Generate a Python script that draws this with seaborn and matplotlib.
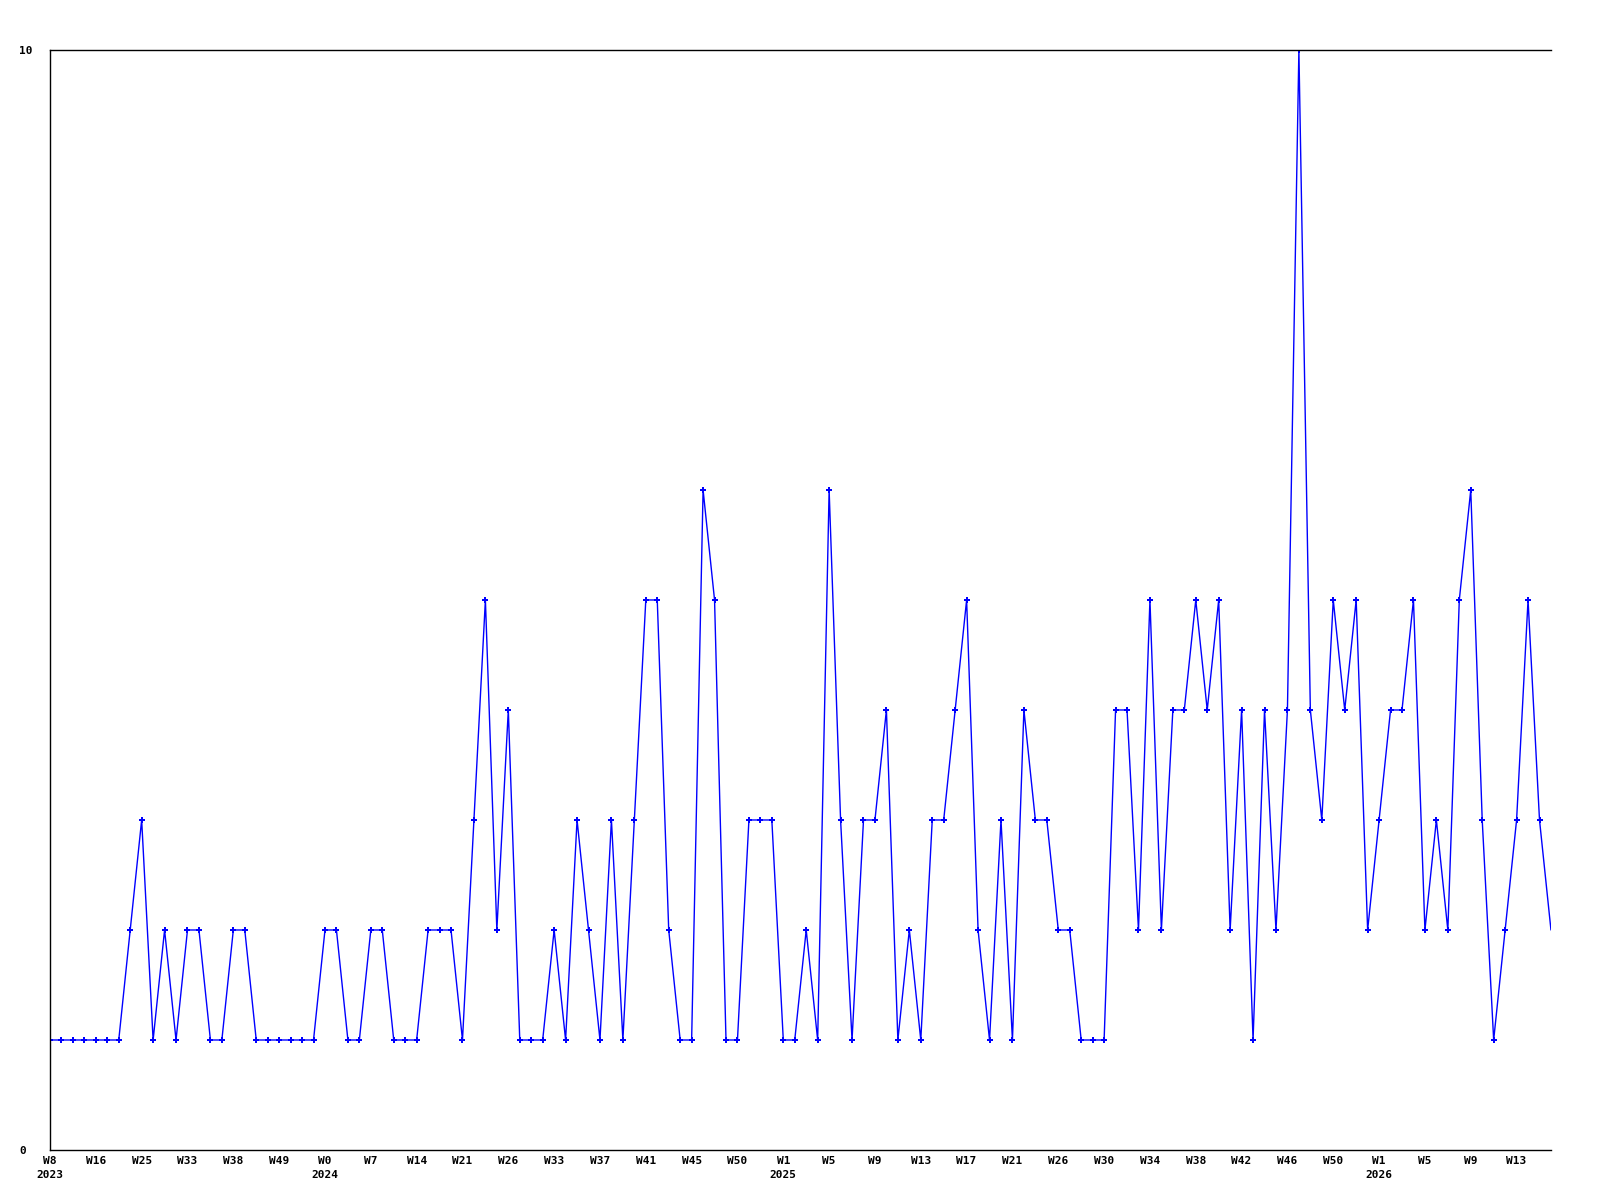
import matplotlib
matplotlib.use("Agg")
import matplotlib.pyplot as plt
import pandas as pd
import seaborn as sns

# weekly counts, one per point
counts = [1, 1, 1, 1, 1, 1, 1, 2, 3, 1, 2, 1, 2, 2, 1, 1, 2, 2, 1, 1,
          1, 1, 1, 1, 2, 2, 1, 1, 2, 2, 1, 1, 1, 2, 2, 2, 1, 3, 5, 2,
          4, 1, 1, 1, 2, 1, 3, 2, 1, 3, 1, 3, 5, 5, 2, 1, 1, 6, 5, 1,
          1, 3, 3, 3, 1, 1, 2, 1, 6, 3, 1, 3, 3, 4, 1, 2, 1, 3, 3, 4,
          5, 2, 1, 3, 1, 4, 3, 3, 2, 2, 1, 1, 1, 4, 4, 2, 5, 2, 4, 4,
          5, 4, 5, 2, 4, 1, 4, 2, 4, 10, 4, 3, 5, 4, 5, 2, 3, 4, 4, 5,
          2, 3, 2, 5, 6, 3, 1, 2, 3, 5, 3, 2]

# tick labels every 4th point
week_labels = ["W8", "W16", "W25", "W33", "W38", "W49", "W0", "W7", "W14",
               "W21", "W26", "W33", "W37", "W41", "W45", "W50", "W1", "W5",
               "W9", "W13", "W17", "W21", "W26", "W30", "W34", "W38", "W42",
               "W46", "W50", "W1", "W5", "W9", "W13"]
year_labels = {0: "2023", 6: "2024", 16: "2025", 29: "2026"}

df = pd.DataFrame({"idx": range(len(counts)), "count": counts})

sns.set_style("white")
plt.rcParams["font.family"] = ["DejaVu Sans Mono"]

fig = plt.figure(figsize=(16, 12), dpi=100)
ax = fig.add_axes([0.03125, 0.04167, 0.9381, 0.9167])

sns.lineplot(data=df, x="idx", y="count", ax=ax, color="#0000ff",
             linewidth=1.0, marker="P", markersize=4, markeredgewidth=0,
             markevery=list(range(len(counts) - 1)))

ax.set_xlim(0, len(counts) - 1)
ax.set_ylim(0, 10)

ticks = list(range(0, len(counts), 4))
labels = []
for i, w in enumerate(week_labels):
    labels.append(w + "\n" + year_labels[i] if i in year_labels else w)
ax.set_xticks(ticks)
ax.set_xticklabels(labels, fontsize=8, fontweight="bold", linespacing=1.6,
                   color="black")

ax.set_yticks([0, 10])
ax.set_yticklabels(["0", "10"], fontsize=8, fontweight="bold", color="black")
for t in ax.get_yticklabels():
    t.set_horizontalalignment("left")

ax.tick_params(axis="x", length=0, pad=4)
ax.tick_params(axis="y", length=0, pad=22)

ax.set_xlabel("")
ax.set_ylabel("")

for side in ["left", "bottom", "top"]:
    ax.spines[side].set_color("black")
    ax.spines[side].set_linewidth(1.0)
ax.spines["right"].set_visible(False)

plt.savefig("out.png", dpi=100)
